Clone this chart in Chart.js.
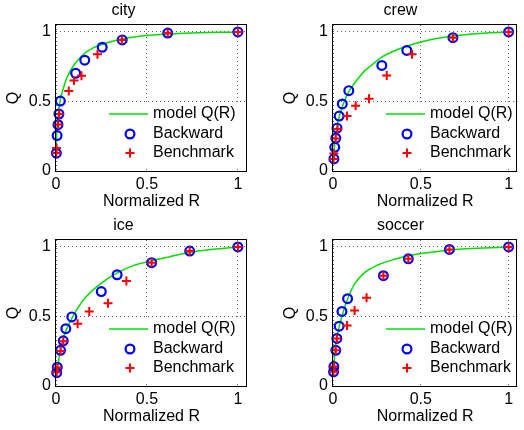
<!DOCTYPE html>
<html>
<head>
<meta charset="utf-8">
<script src="https://cdn.jsdelivr.net/npm/chart.js@4.4.1/dist/chart.umd.min.js"></script>
<style>
  html, body { margin: 0; padding: 0; background: #fff; }
  #wrap { position: relative; width: 524px; height: 430px; }
  canvas { position: absolute; }
</style>
</head>
<body>
<div id="wrap">
  <canvas id="c1" width="262" height="215" style="left:0;top:0"></canvas>
  <canvas id="c2" width="262" height="215" style="left:262px;top:0"></canvas>
  <canvas id="c3" width="262" height="215" style="left:0;top:215px"></canvas>
  <canvas id="c4" width="262" height="215" style="left:262px;top:215px"></canvas>
</div>
<script>
const legendLabels = ['model Q(R)', 'Backward', 'Benchmark'];
const axisTicks = [0, 0.5, 1];
const axisTickLabels = ['0', '0.5', '1'];
const xTitle = 'Normalized R';
const yTitle = 'Q';

// city
const cityModelR = [0.001, 0.005, 0.012, 0.022, 0.035, 0.06, 0.095, 0.15, 0.205, 0.28, 0.36, 0.5, 0.7, 1.0];
const cityModelQ = [0.13, 0.30, 0.40, 0.50, 0.57, 0.67, 0.755, 0.838, 0.885, 0.922, 0.95, 0.975, 0.99, 1.0];
const cityBackR = [0.002, 0.006, 0.011, 0.016, 0.024, 0.108, 0.158, 0.254, 0.364, 0.614, 1.0];
const cityBackQ = [0.128, 0.255, 0.333, 0.41, 0.503, 0.703, 0.797, 0.89, 0.943, 0.992, 1.0];
const cityBenchR = [0.002, 0.003, 0.012, 0.018, 0.07, 0.099, 0.14, 0.228, 0.362, 0.614, 1.0];
const cityBenchQ = [0.13, 0.165, 0.335, 0.41, 0.576, 0.65, 0.685, 0.84, 0.943, 0.992, 1.0];

// crew
const crewModelR = [0.003, 0.01, 0.02, 0.035, 0.055, 0.085, 0.128, 0.18, 0.214, 0.28, 0.35, 0.42, 0.56, 0.71, 0.89, 1.0];
const crewModelQ = [0.1, 0.2, 0.3, 0.39, 0.47, 0.56, 0.64, 0.72, 0.755, 0.82, 0.865, 0.897, 0.945, 0.974, 0.994, 1.0];
const crewBackR = [0.005, 0.01, 0.016, 0.023, 0.035, 0.053, 0.09, 0.278, 0.42, 0.683, 1.0];
const crewBackQ = [0.087, 0.17, 0.236, 0.308, 0.395, 0.482, 0.578, 0.759, 0.867, 0.959, 1.0];
const crewBenchR = [0.003, 0.005, 0.016, 0.026, 0.08, 0.129, 0.205, 0.306, 0.45, 0.683, 1.0];
const crewBenchQ = [0.087, 0.125, 0.233, 0.302, 0.395, 0.47, 0.519, 0.687, 0.839, 0.959, 1.0];

// ice
const iceModelR = [0.005, 0.022, 0.049, 0.077, 0.114, 0.168, 0.242, 0.339, 0.425, 0.526, 0.626, 0.736, 0.864, 1.0];
const iceModelQ = [0.1, 0.24, 0.38, 0.46, 0.55, 0.645, 0.733, 0.815, 0.866, 0.9, 0.93, 0.962, 0.983, 1.0];
const iceBackR = [0.004, 0.007, 0.025, 0.04, 0.054, 0.087, 0.249, 0.336, 0.526, 0.735, 1.0];
const iceBackQ = [0.096, 0.135, 0.257, 0.325, 0.412, 0.497, 0.679, 0.8, 0.887, 0.97, 1.0];
const iceBenchR = [0.004, 0.007, 0.025, 0.04, 0.119, 0.183, 0.286, 0.387, 0.526, 0.735, 1.0];
const iceBenchQ = [0.098, 0.133, 0.252, 0.322, 0.448, 0.536, 0.596, 0.756, 0.887, 0.97, 1.0];

// soccer
const soccerModelR = [0.003, 0.012, 0.025, 0.04, 0.055, 0.084, 0.126, 0.18, 0.255, 0.346, 0.432, 0.548, 0.667, 0.822, 1.0];
const soccerModelQ = [0.12, 0.26, 0.37, 0.45, 0.52, 0.63, 0.74, 0.815, 0.87, 0.91, 0.937, 0.96, 0.978, 0.99, 1.0];
const soccerBackR = [0.003, 0.005, 0.016, 0.022, 0.035, 0.051, 0.083, 0.287, 0.429, 0.663, 1.0];
const soccerBackQ = [0.102, 0.14, 0.257, 0.342, 0.43, 0.536, 0.628, 0.793, 0.915, 0.982, 1.0];
const soccerBenchR = [0.003, 0.005, 0.016, 0.022, 0.08, 0.123, 0.191, 0.287, 0.429, 0.663, 1.0];
const soccerBenchQ = [0.102, 0.14, 0.257, 0.342, 0.436, 0.543, 0.635, 0.793, 0.915, 0.982, 1.0];

const FONT = 'Liberation Sans, Arial, Helvetica, sans-serif';
const GREEN = 'rgb(0,225,0)';
const BLUE = '#0000ff';
const RED = '#ff0000';

function pts(xs, ys) {
    return xs.map((x, i) => ({ x: x, y: ys[i] }));
}

// legend inside the axes, white box without frame (like matlab "legend boxoff")
const boxLegend = {
    id: 'boxLegend',
    beforeDatasetsDraw(chart) {
        const ctx = chart.ctx;
        const a = chart.chartArea;
        ctx.save();
        ctx.fillStyle = '#fff';
        ctx.fillRect(a.left + 51, a.top + 77, a.right - a.left - 54, 64);
        const rows = [a.top + 89, a.top + 109, a.top + 128];
        const mx = a.left + 74;
        // line sample
        ctx.strokeStyle = GREEN;
        ctx.lineWidth = 1.5;
        ctx.beginPath();
        ctx.moveTo(a.left + 53, rows[0]);
        ctx.lineTo(a.left + 92, rows[0]);
        ctx.stroke();
        // circle
        ctx.strokeStyle = BLUE;
        ctx.lineWidth = 2.2;
        ctx.beginPath();
        ctx.arc(mx, rows[1], 4.4, 0, Math.PI * 2);
        ctx.stroke();
        // plus
        ctx.strokeStyle = RED;
        ctx.lineWidth = 2;
        ctx.beginPath();
        ctx.moveTo(mx - 4.5, rows[2]); ctx.lineTo(mx + 4.5, rows[2]);
        ctx.moveTo(mx, rows[2] - 4.5); ctx.lineTo(mx, rows[2] + 4.5);
        ctx.stroke();
        ctx.fillStyle = '#000';
        ctx.font = '16px ' + FONT;
        ctx.textBaseline = 'middle';
        ctx.textAlign = 'left';
        legendLabels.forEach((t, i) => ctx.fillText(t, a.left + 97, rows[i]));
        ctx.restore();
    },
    afterDraw(chart) {
        const ctx = chart.ctx;
        const a = chart.chartArea;
        const L = Math.round(a.left) - 0.5;
        const T = Math.round(a.top) - 0.5;
        const R = Math.min(Math.round(a.right), chart.width) - 0.5;
        const B = Math.round(a.bottom) + 0.5;
        ctx.save();
        ctx.strokeStyle = '#000';
        ctx.lineWidth = 1;
        ctx.strokeRect(L, T, R - L, B - T);
        ctx.restore();
    }
};

function axis(isX) {
    return {
        type: 'linear',
        min: 0,
        max: 1.05,
        afterBuildTicks: s => { s.ticks = axisTicks.map(v => ({ value: v })); },
        afterFit: s => {
            if (isX) s.height = 44; else s.width = 56;
        },
        grid: { color: 'rgba(0,0,0,0.6)', lineWidth: 1, drawTicks: false },
        border: { display: false, dash: [1, 3] },
        ticks: {
            color: '#000',
            font: { family: FONT, size: 16 },
            padding: isX ? 4 : 5,
            maxRotation: 0,
            callback: v => axisTickLabels[axisTicks.indexOf(v)]
        },
        title: {
            display: true,
            text: isX ? xTitle : yTitle,
            color: '#000',
            font: { family: FONT, size: 16 },
            padding: isX ? { top: 0, bottom: 3.4 } : { top: 4.4, bottom: 0 }
        }
    };
}

function makeChart(id, name, modelR, modelQ, backR, backQ, benchR, benchQ, padLeft, padRight) {
    new Chart(document.getElementById(id), {
        type: 'scatter',
        data: {
            datasets: [{
                label: legendLabels[0],
                data: pts(modelR, modelQ),
                showLine: true,
                borderColor: GREEN,
                borderWidth: 1.5,
                pointRadius: 0,
                cubicInterpolationMode: 'monotone',
                order: 3
            }, {
                label: legendLabels[1],
                data: pts(backR, backQ),
                pointStyle: 'circle',
                pointRadius: 4.4,
                borderWidth: 2.2,
                borderColor: BLUE,
                backgroundColor: 'rgba(0,0,0,0)',
                clip: false,
                order: 2
            }, {
                label: legendLabels[2],
                data: pts(benchR, benchQ),
                pointStyle: 'cross',
                pointRadius: 4.5,
                borderWidth: 2,
                borderColor: RED,
                backgroundColor: RED,
                clip: false,
                order: 1
            }]
        },
        options: {
            responsive: false,
            animation: false,
            devicePixelRatio: 1,
            layout: { padding: { left: padLeft, right: padRight, top: 0, bottom: 0 } },
            scales: {
                x: axis(true),
                y: axis(false)
            },
            plugins: {
                legend: { display: false },
                tooltip: { enabled: false },
                title: {
                    display: true,
                    text: name,
                    color: '#000',
                    font: { family: FONT, size: 16, weight: 'normal', lineHeight: 1 },
                    padding: { top: 3, bottom: 6 }
                }
            }
        },
        plugins: [boxLegend]
    });
}

makeChart('c1', 'city', cityModelR, cityModelQ, cityBackR, cityBackQ, cityBenchR, cityBenchQ, 0, 15);
makeChart('c2', 'crew', crewModelR, crewModelQ, crewBackR, crewBackQ, crewBenchR, crewBenchQ, 15, 0);
makeChart('c3', 'ice', iceModelR, iceModelQ, iceBackR, iceBackQ, iceBenchR, iceBenchQ, 0, 15);
makeChart('c4', 'soccer', soccerModelR, soccerModelQ, soccerBackR, soccerBackQ, soccerBenchR, soccerBenchQ, 15, 0);
</script>
</body>
</html>
